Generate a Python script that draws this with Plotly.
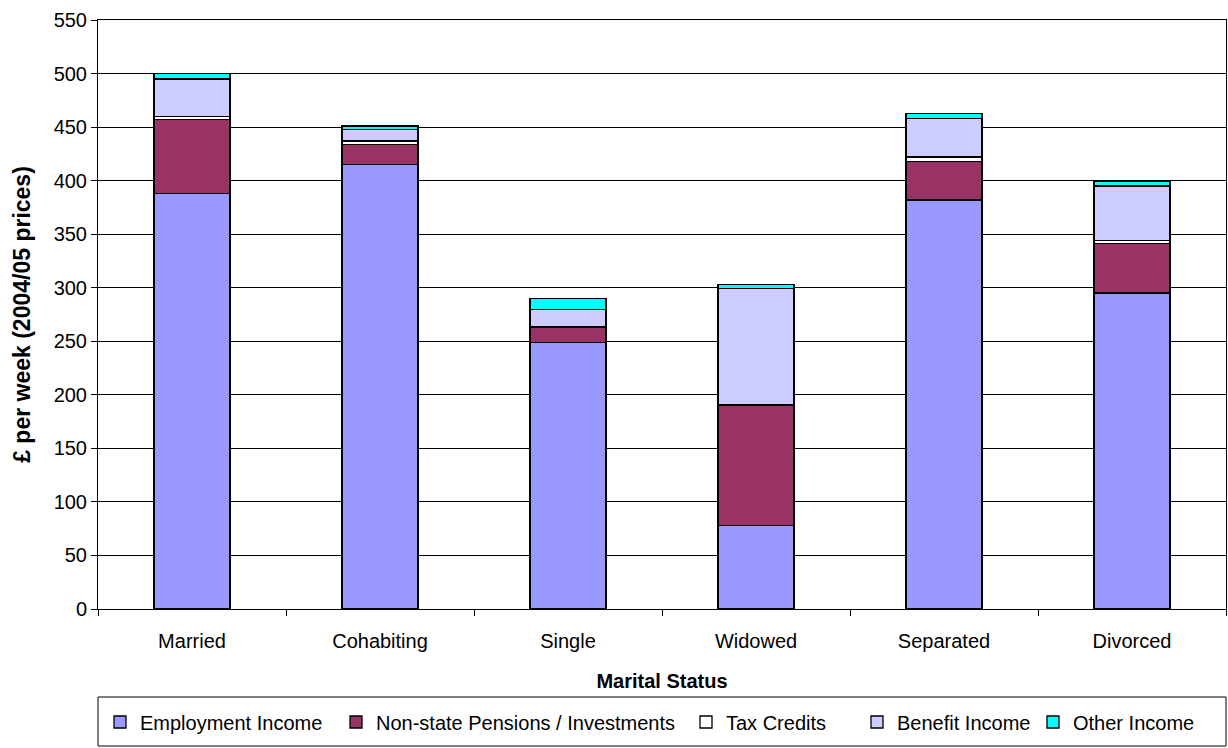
import plotly.graph_objects as go

categories = ["Married", "Cohabiting", "Single", "Widowed", "Separated", "Divorced"]
employment = [388, 415, 249, 78, 382, 295]
non_state = [69, 19, 14, 112, 36, 46]
tax_credits = [3, 3, 1, 1, 4, 3]
benefit = [35, 11, 16, 108, 36, 51]
other = [5, 3, 10, 4, 5, 4]

series = [
    ("Employment Income", employment, "#9999FF"),
    ("Non-state Pensions / Investments", non_state, "#993366"),
    ("Tax Credits", tax_credits, "#FFFFFF"),
    ("Benefit Income", benefit, "#CCCCFF"),
    ("Other Income", other, "#00FFFF"),
]

# legend item left edges (pixels) of the reference legend entries
legend_px = [100, 336, 686, 857, 1033]
PL, PW, PT, PH = 98, 1128, 20, 589

font = "Liberation Sans, Arial, sans-serif"
fig = go.Figure()
legend_layouts = {}
for i, (name, vals, col) in enumerate(series):
    lname = "legend" if i == 0 else f"legend{i+1}"
    fig.add_trace(go.Bar(
        x=categories, y=vals, name=name, legend=lname,
        marker=dict(color=col, line=dict(color="black", width=1.3)),
        width=0.405,
    ))
    legend_layouts[lname] = dict(
        x=(legend_px[i] - PL) / PW, xanchor="left",
        y=(PT + PH - 722) / PH, yanchor="middle",
        borderwidth=0, bgcolor="rgba(0,0,0,0)",
        font=dict(size=20, family=font, color="black"),
        itemwidth=30,
    )

fig.update_layout(
    barmode="stack",
    width=1228, height=748,
    margin=dict(l=PL, r=2, t=PT, b=139),
    paper_bgcolor="white", plot_bgcolor="white",
    font=dict(family=font, size=20, color="black"),
    showlegend=True,
    xaxis=dict(
        title=dict(text="<b>Marital Status</b>", font=dict(size=20), standoff=22),
        showline=True, linecolor="black", mirror=True,
        ticks="outside", tickson="boundaries", ticklen=6, tickcolor="black",
        tickfont=dict(size=20), ticklabelstandoff=14,
    ),
    yaxis=dict(
        title=dict(text="<b>£ per week (2004/05 prices)</b>", font=dict(size=23), standoff=16),
        range=[0, 550], dtick=50,
        showline=True, linecolor="black", mirror=True,
        showgrid=True, gridcolor="black", gridwidth=1,
        ticks="outside", ticklen=6, tickcolor="black",
        tickfont=dict(size=20),
        zeroline=False,
    ),
    shapes=[dict(
        type="rect", xref="paper", yref="paper",
        x0=0, x1=1, y0=(PT + PH - 746) / PH, y1=(PT + PH - 697) / PH,
        line=dict(color="black", width=1), fillcolor="rgba(0,0,0,0)",
    )],
    **legend_layouts,
)
fig.write_html("out.html")
